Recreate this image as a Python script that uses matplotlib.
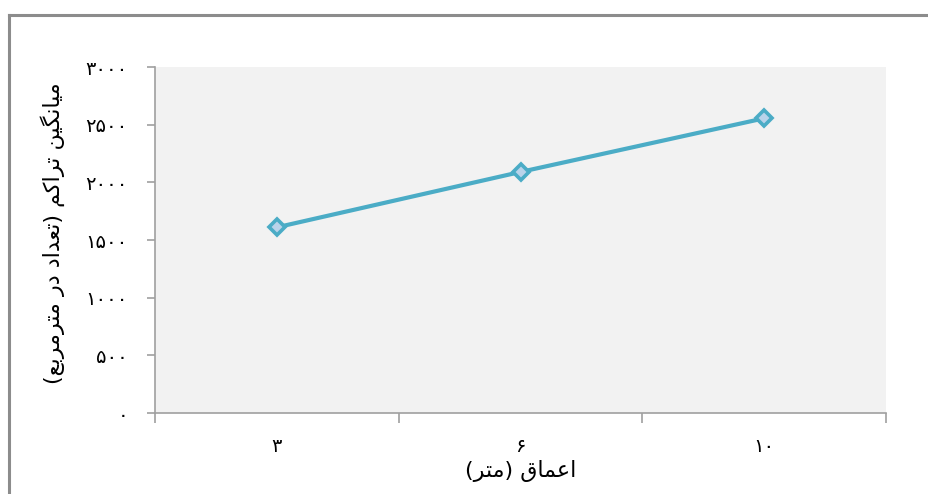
import matplotlib.pyplot as plt
from matplotlib.lines import Line2D
from matplotlib.ticker import FuncFormatter, FixedLocator

# Data: mean density (count per square metre) at each depth
depths = ['۳', '۶', '۱۰']
density = [1610, 2090, 2555]
xlabel = 'اعماق (متر)'
ylabel = 'میانگین تراکم (تعداد در مترمربع)'

# Contextual forms for the Persian letters used: (isolated, final, initial, medial)
FORMS = {
    'ا': ('\uFE8D', '\uFE8E', None, None),
    'د': ('\uFEA9', '\uFEAA', None, None),
    'ر': ('\uFEAD', '\uFEAE', None, None),
    'ب': ('\uFE8F', '\uFE90', '\uFE91', '\uFE92'),
    'ت': ('\uFE95', '\uFE96', '\uFE97', '\uFE98'),
    'ع': ('\uFEC9', '\uFECA', '\uFECB', '\uFECC'),
    'ق': ('\uFED5', '\uFED6', '\uFED7', '\uFED8'),
    'م': ('\uFEE1', '\uFEE2', '\uFEE3', '\uFEE4'),
    'ن': ('\uFEE5', '\uFEE6', '\uFEE7', '\uFEE8'),
    'ک': ('\uFB8E', '\uFB8F', '\uFB90', '\uFB91'),
    'گ': ('\uFB92', '\uFB93', '\uFB94', '\uFB95'),
    'ی': ('\uFBFC', '\uFBFD', '\uFBFE', '\uFBFF'),
}
MIRROR = {'(': ')', ')': '('}


def shape_fa(text):
    # join letters and lay them out right-to-left for matplotlib
    out = []
    for i, ch in enumerate(text):
        if ch not in FORMS:
            out.append(MIRROR.get(ch, ch))
            continue
        prev = text[i - 1] if i > 0 else ''
        nxt = text[i + 1] if i + 1 < len(text) else ''
        j_prev = prev in FORMS and FORMS[prev][2] is not None
        j_next = FORMS[ch][2] is not None and nxt in FORMS
        iso, fin, ini, med = FORMS[ch]
        if j_prev and j_next:
            out.append(med)
        elif j_prev:
            out.append(fin)
        elif j_next:
            out.append(ini)
        else:
            out.append(iso)
    return ''.join(reversed(out))


def fa_digits(v, pos=None):
    return str(int(v)).translate(str.maketrans('0123456789', '۰۱۲۳۴۵۶۷۸۹'))


plt.rcParams['font.family'] = ['DejaVu Sans']

fig = plt.figure(figsize=(9.29, 4.94), dpi=100)
ax = fig.add_axes([155 / 929, 81 / 494, 731 / 929, 346 / 494])
ax.set_facecolor('#f2f2f2')

x = list(range(len(depths)))
ax.plot(x, density, color='#4bacc6', lw=3, marker='D', markersize=8.5,
        markeredgewidth=2.6, markeredgecolor='#4bacc6', markerfacecolor='#b9d3ea',
        solid_capstyle='round')

# Axis limits and ticks
ax.set_xlim(-0.5, len(depths) - 0.5)
ax.set_ylim(0, 3000)
ax.set_yticks(range(0, 3001, 500))
ax.yaxis.set_major_formatter(FuncFormatter(fa_digits))
ax.xaxis.set_major_locator(FixedLocator([i - 0.5 for i in range(len(depths) + 1)]))
ax.xaxis.set_major_formatter(FuncFormatter(lambda v, p: ''))
ax.set_xticks(x, minor=True)
ax.set_xticklabels(depths, minor=True)

for s in ['top', 'right']:
    ax.spines[s].set_visible(False)
for s in ['left', 'bottom']:
    ax.spines[s].set_color('#a0a0a0')
    ax.spines[s].set_linewidth(1.2)

ax.tick_params(axis='y', direction='out', length=5.5, width=1.2, color='#a0a0a0',
               pad=14, labelsize=14)
ax.tick_params(axis='x', which='major', direction='out', length=7.5, width=1.2,
               color='#a0a0a0')
ax.tick_params(axis='x', which='minor', length=0, pad=17, labelsize=14)

ax.set_xlabel(shape_fa(xlabel), fontsize=16, labelpad=3)
ax.set_ylabel(shape_fa(ylabel), fontsize=16)
ax.yaxis.set_label_coords(-0.123, 0.52)

# Frame around the chart
fig.add_artist(Line2D([9 / 929, 9 / 929], [0, 1 - 15 / 494], color='#8c8c8c', lw=2.2,
                      transform=fig.transFigure))
fig.add_artist(Line2D([9 / 929, 1], [1 - 15 / 494, 1 - 15 / 494], color='#8c8c8c', lw=2.2,
                      transform=fig.transFigure))

plt.savefig('out.png', dpi=100)
